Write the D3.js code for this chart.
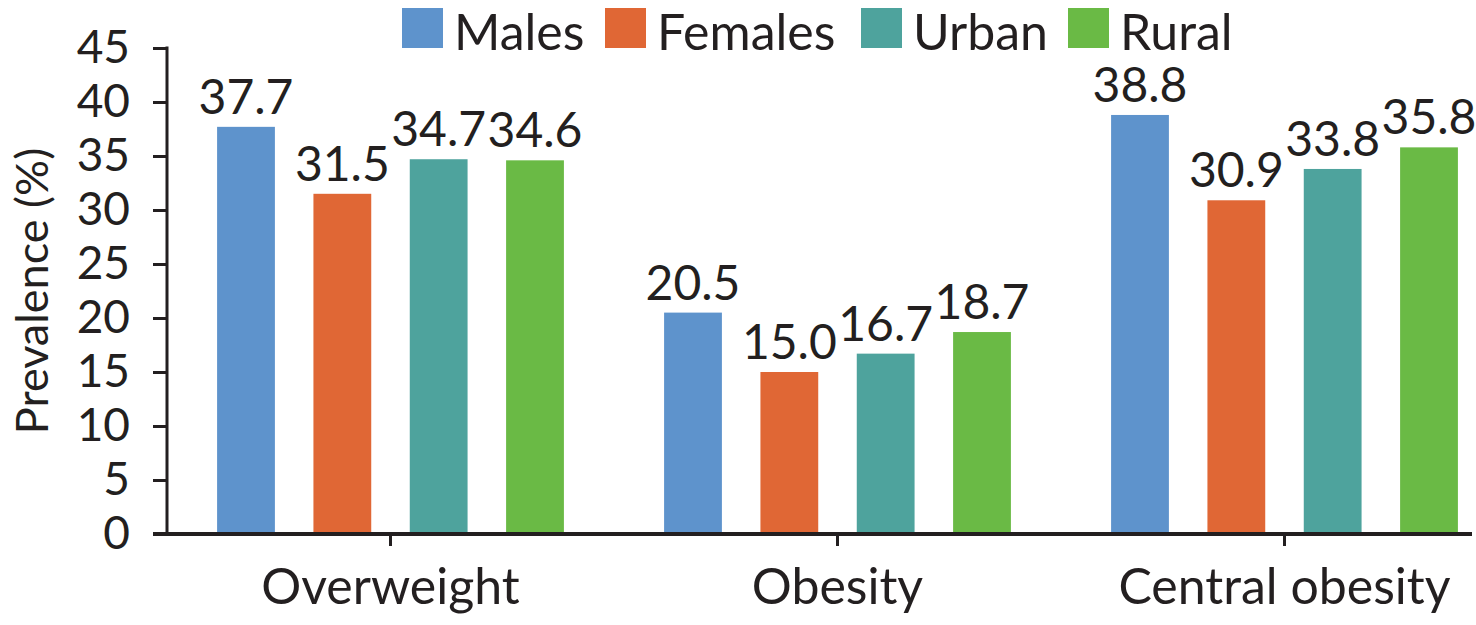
<!DOCTYPE html>
<html>
<head>
<meta charset="utf-8">
<script src="https://cdn.jsdelivr.net/npm/d3@7"></script>
<style>
    body { margin: 0; background: #fff; }
    svg { display: block; }
    text { font-family: Lato, "Open Sans", sans-serif; fill: #231f20; }
</style>
</head>
<body>
<div id="chart"></div>
<script>
var categories = ["Overweight", "Obesity", "Central obesity"];
var series = ["Males", "Females", "Urban", "Rural"];
var colors = ["#5e93cc", "#e06735", "#4ea39d", "#6aba45"];
var males = [37.7, 20.5, 38.8];
var females = [31.5, 15.0, 30.9];
var urban = [34.7, 16.7, 33.8];
var rural = [34.6, 18.7, 35.8];
var yTicks = [0, 5, 10, 15, 20, 25, 30, 35, 40, 45];

var values = [males, females, urban, rural];
var width = 1476,
    height = 625;

var svg = d3.select("#chart").append("svg")
    .attr("width", width)
    .attr("height", height);

var y = d3.scaleLinear()
    .domain([0, 45])
    .range([534, 48]);

var x0 = d3.scaleBand()
    .domain(categories)
    .range([167, 1508]);

var x1 = d3.scaleBand()
    .domain(series)
    .range([0, x0.bandwidth()])
    .paddingInner(0.4)
    .paddingOuter(0.52);

// bars
var groups = svg.selectAll("g.group")
    .data(categories)
    .enter().append("g")
    .attr("class", "group")
    .attr("transform", function (d) { return "translate(" + x0(d) + ",0)"; });

groups.selectAll("rect")
    .data(function (d, i) {
        return series.map(function (s, j) { return { s: s, j: j, v: values[j][i] }; });
    })
    .enter().append("rect")
    .attr("x", function (d) { return x1(d.s); })
    .attr("y", function (d) { return y(d.v); })
    .attr("width", x1.bandwidth())
    .attr("height", function (d) { return y(0) - y(d.v); })
    .attr("fill", function (d) { return colors[d.j]; });

groups.selectAll("text.val")
    .data(function (d, i) {
        return series.map(function (s, j) { return { s: s, j: j, v: values[j][i] }; });
    })
    .enter().append("text")
    .attr("class", "val")
    .attr("x", function (d) { return x1(d.s) + x1.bandwidth() / 2; })
    .attr("y", function (d) { return y(d.v) - 13; })
    .attr("text-anchor", "middle")
    .style("font-size", "48px")
    .text(function (d) { return d.v.toFixed(1); });

// y axis
var yAxis = svg.append("g")
    .attr("transform", "translate(167,0)")
    .call(d3.axisLeft(y).tickValues(yTicks).tickSize(14).tickPadding(23));
yAxis.select(".domain").remove();
yAxis.append("line")
    .attr("x1", 0).attr("x2", 0)
    .attr("y1", y(45) - 1.5).attr("y2", y(0))
    .attr("stroke", "#231f20").attr("stroke-width", 3);
yAxis.selectAll(".tick line").attr("stroke", "#231f20").attr("stroke-width", 3);
yAxis.selectAll(".tick text")
    .style("font-size", "46px")
    .style("font-family", "Lato, sans-serif")
    .attr("fill", "#231f20");

// x axis
var xAxis = svg.append("g")
    .attr("transform", "translate(0," + y(0) + ")")
    .call(d3.axisBottom(x0).tickSize(12).tickPadding(22));
xAxis.select(".domain").remove();
xAxis.append("line")
    .attr("x1", 153).attr("x2", 1472)
    .attr("stroke", "#231f20").attr("stroke-width", 4);
xAxis.selectAll(".tick line").attr("stroke", "#231f20").attr("stroke-width", 3);
xAxis.selectAll(".tick text")
    .style("font-size", "50px")
    .style("font-family", "Lato, sans-serif")
    .attr("fill", "#231f20");

// y label
svg.append("text")
    .attr("transform", "translate(48," + y(22.5) + ") rotate(-90)")
    .attr("text-anchor", "middle")
    .style("font-size", "45px")
    .text("Prevalence (%)");

// legend
var legendX = [402, 605, 861, 1068];
var legend = svg.selectAll("g.legend")
    .data(series)
    .enter().append("g")
    .attr("class", "legend")
    .attr("transform", function (d, i) { return "translate(" + legendX[i] + ",8)"; });
legend.append("rect")
    .attr("width", 41).attr("height", 40)
    .attr("fill", function (d, i) { return colors[i]; });
legend.append("text")
    .attr("x", 52).attr("y", 42)
    .style("font-size", "50px")
    .text(function (d) { return d; });
</script>
</body>
</html>
